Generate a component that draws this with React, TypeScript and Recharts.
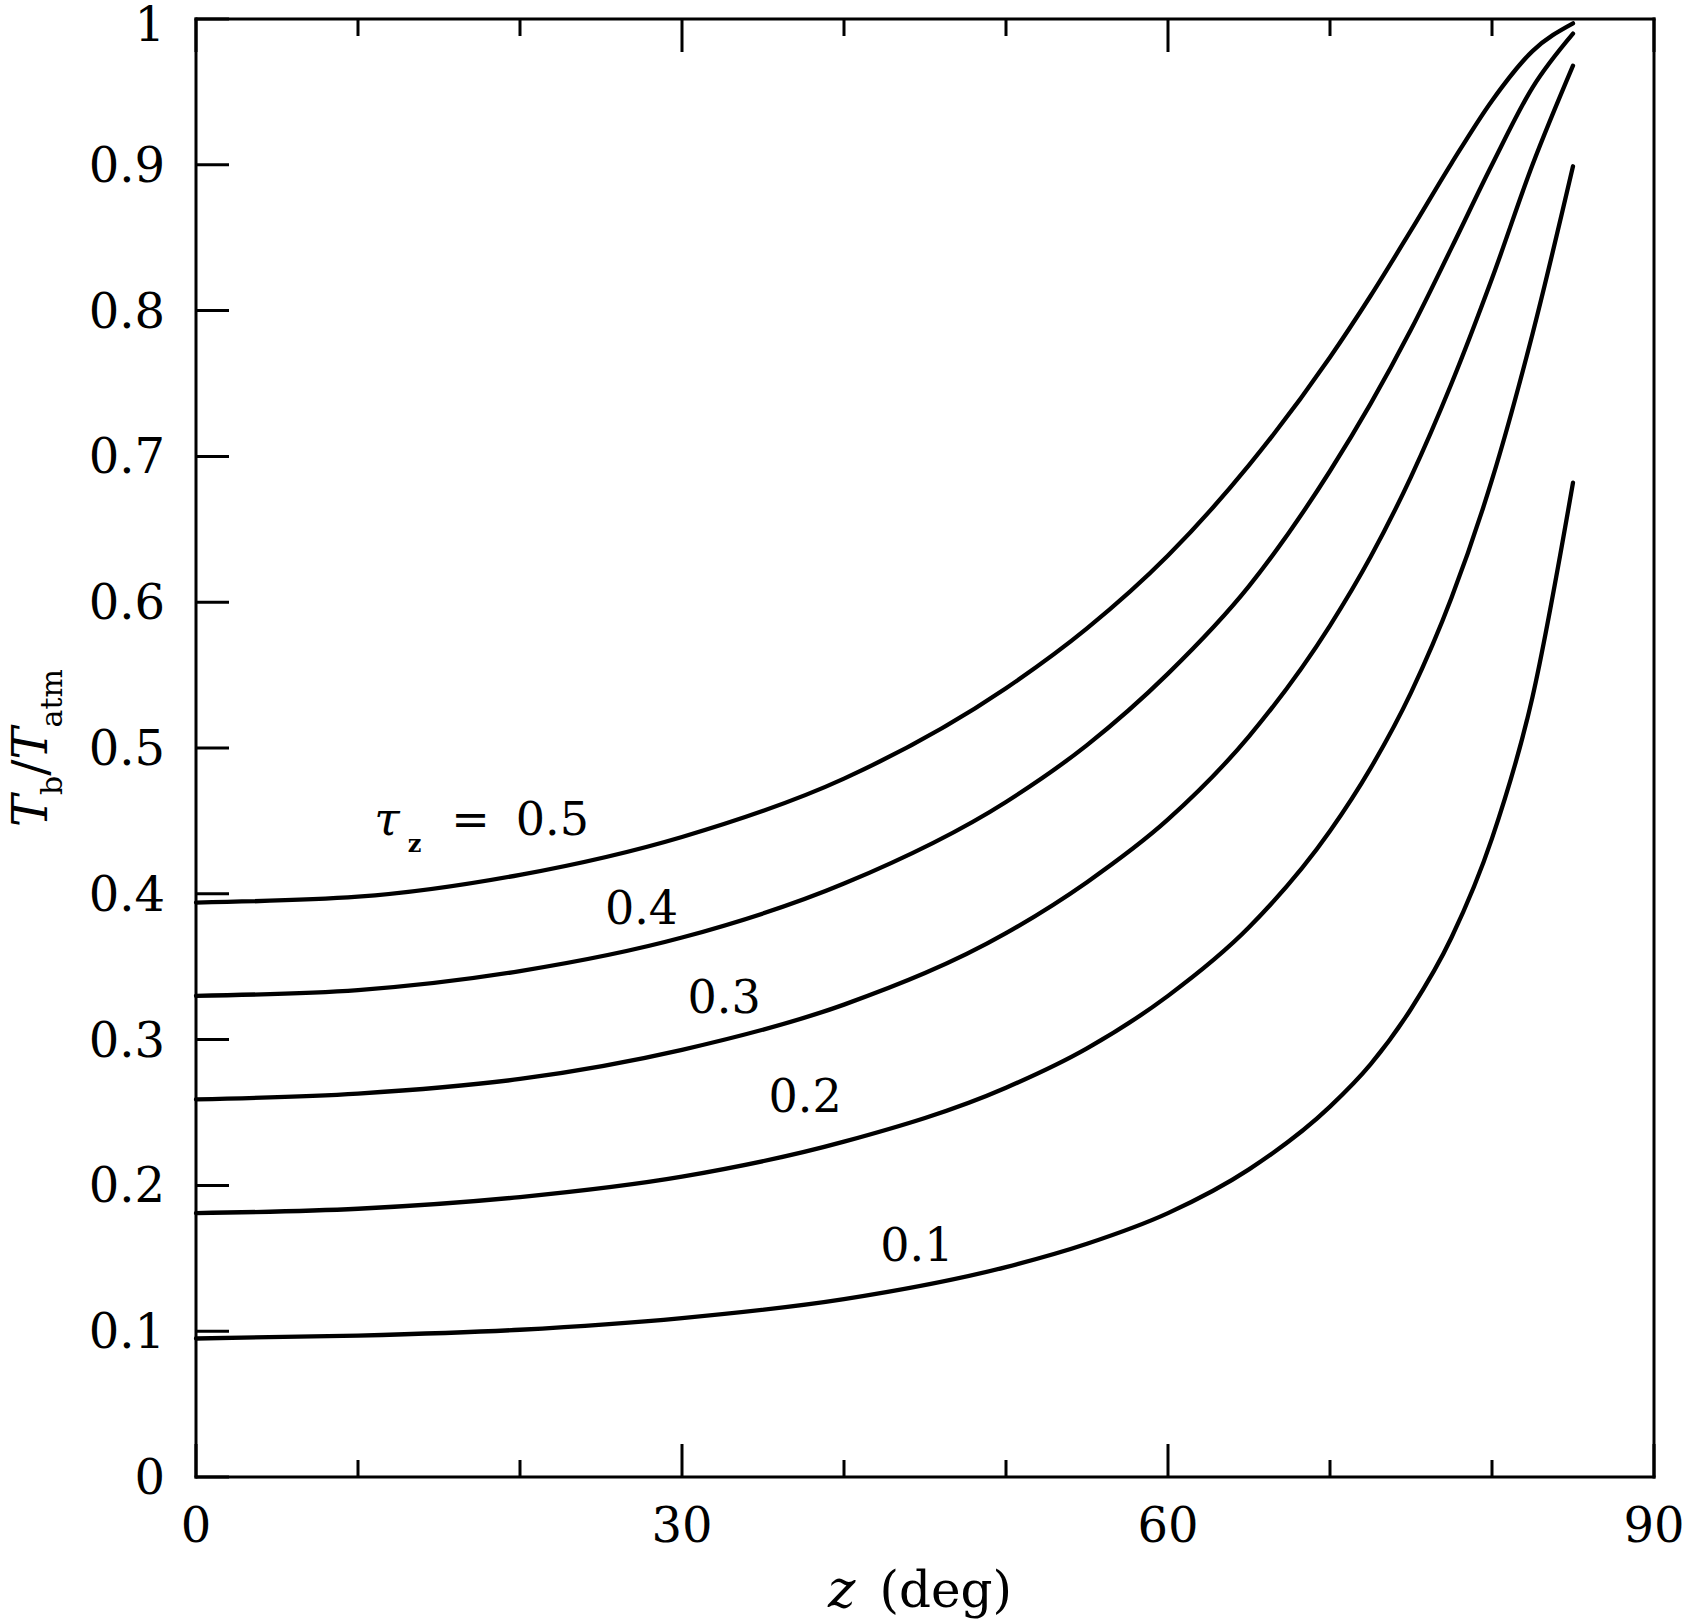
import { LineChart, Line, XAxis, YAxis, ReferenceDot, Label } from 'recharts'

// zenith angle (deg) and Tb/Tatm for each tau_z
const zenith = [0, 10, 20, 30, 40, 50, 55, 60, 65, 70, 72.5, 75, 77.5, 80, 82.5, 85]
const tau01 = [0.095, 0.097, 0.101, 0.109, 0.122, 0.144, 0.16, 0.181, 0.211, 0.254, 0.283, 0.321, 0.37, 0.438, 0.535, 0.682]
const tau02 = [0.181, 0.184, 0.192, 0.206, 0.23, 0.267, 0.294, 0.33, 0.377, 0.443, 0.486, 0.538, 0.603, 0.684, 0.784, 0.899]
const tau03 = [0.259, 0.263, 0.273, 0.293, 0.324, 0.373, 0.408, 0.451, 0.508, 0.584, 0.631, 0.686, 0.75, 0.822, 0.9, 0.968]
const tau04 = [0.33, 0.334, 0.347, 0.37, 0.407, 0.463, 0.502, 0.551, 0.611, 0.69, 0.736, 0.787, 0.843, 0.9, 0.953, 0.99]
const tau05 = [0.394, 0.398, 0.413, 0.439, 0.479, 0.541, 0.582, 0.632, 0.694, 0.768, 0.81, 0.855, 0.901, 0.944, 0.978, 0.997]

const xTicks = [0, 10, 20, 30, 40, 50, 60, 70, 80, 90]
const yTicks = [0, 0.1, 0.2, 0.3, 0.4, 0.5, 0.6, 0.7, 0.8, 0.9, 1]

// curve labels: text, z, value at label centre
const curveLabels = [
    { text: '0.4', z: 27.5, v: 0.39 },
    { text: '0.3', z: 32.6, v: 0.329 },
    { text: '0.2', z: 37.6, v: 0.261 },
    { text: '0.1', z: 44.5, v: 0.159 }
]

const data = zenith.map((z, i) => ({
    z,
    t1: tau01[i],
    t2: tau02[i],
    t3: tau03[i],
    t4: tau04[i],
    t5: tau05[i]
}))

const FONT = '"DejaVu Serif", "Liberation Serif", serif'
const MAJOR = 33
const MINOR = 17

const BottomTick = (props: any) => {
    const { x, y, payload } = props
    const major = payload.value % 30 === 0
    return (
        <g>
            <line x1={x} x2={x} y1={y} y2={y - (major ? MAJOR : MINOR)} stroke="#000" strokeWidth={3} />
            {major && (
                <text x={x} y={y + 65} textAnchor="middle" fontSize={48} fontFamily={FONT} fill="#000">
                    {payload.value}
                </text>
            )}
        </g>
    )
}

const TopTick = (props: any) => {
    const { x, y, payload } = props
    const major = payload.value % 30 === 0
    return <line x1={x} x2={x} y1={y} y2={y + (major ? MAJOR : MINOR)} stroke="#000" strokeWidth={3} />
}

const LeftTick = (props: any) => {
    const { x, y, payload } = props
    // keep the top label inside the picture
    const ly = payload.value === 1 ? y + 5 : y
    return (
        <g>
            <line x1={x} x2={x + MAJOR} y1={y} y2={y} stroke="#000" strokeWidth={3} />
            <text x={x - 31} y={ly} textAnchor="end" dominantBaseline="central" fontSize={48} fontFamily={FONT} fill="#000">
                {String(payload.value)}
            </text>
        </g>
    )
}

const RightTick = (props: any) => {
    const { x, y } = props
    return <line x1={x} x2={x - MAJOR} y1={y} y2={y} stroke="#000" strokeWidth={3} />
}

const axisLine = { stroke: '#000', strokeWidth: 3, strokeLinecap: 'square' as const }

export default function App() {
    const series = ['t1', 't2', 't3', 't4', 't5']
    return (
        <div style={{ position: 'absolute', left: 0, top: 0, background: '#fff' }}>
            <LineChart width={1684} height={1623} data={data} margin={{ top: 0, right: 0, bottom: 0, left: 0 }}>
                <XAxis
                    xAxisId="b"
                    dataKey="z"
                    type="number"
                    domain={[0, 90]}
                    ticks={xTicks}
                    height={146}
                    tickSize={0}
                    tickMargin={0}
                    tickLine={false}
                    axisLine={axisLine}
                    tick={<BottomTick />}
                    interval={0}
                >
                    <Label
                        content={(p: any) => {
                            const vb = p.viewBox
                            return (
                                <text x={vb.x + vb.width / 2 - 5} y={vb.y + 130} textAnchor="middle" fontSize={50} fontFamily={FONT} fill="#000">
                                    <tspan fontStyle="italic" fontSize={52}>z</tspan>
                                    <tspan dx={24}>(deg)</tspan>
                                </text>
                            )
                        }}
                    />
                </XAxis>
                <XAxis
                    xAxisId="t"
                    dataKey="z"
                    type="number"
                    orientation="top"
                    domain={[0, 90]}
                    ticks={xTicks}
                    height={19}
                    tickSize={0}
                    tickMargin={0}
                    tickLine={false}
                    axisLine={axisLine}
                    tick={<TopTick />}
                    interval={0}
                />
                <YAxis
                    yAxisId="l"
                    type="number"
                    domain={[0, 1]}
                    ticks={yTicks}
                    width={196}
                    tickSize={0}
                    tickMargin={0}
                    tickLine={false}
                    axisLine={axisLine}
                    tick={<LeftTick />}
                    interval={0}
                >
                    <Label
                        content={(p: any) => {
                            const vb = p.viewBox
                            const cx = 47
                            const cy = vb.y + vb.height / 2
                            return (
                                <text
                                    x={cx}
                                    y={cy}
                                    transform={`rotate(-90, ${cx}, ${cy})`}
                                    textAnchor="middle"
                                    fontSize={48}
                                    fontFamily={FONT}
                                    fill="#000"
                                >
                                    <tspan fontStyle="italic">T</tspan>
                                    <tspan fontSize={30} dy={15}>b</tspan>
                                    <tspan dy={-15}>/</tspan>
                                    <tspan fontStyle="italic">T</tspan>
                                    <tspan fontSize={30} dy={15}>atm</tspan>
                                </text>
                            )
                        }}
                    />
                </YAxis>
                <YAxis
                    yAxisId="r"
                    orientation="right"
                    type="number"
                    domain={[0, 1]}
                    ticks={yTicks}
                    width={30}
                    tickSize={0}
                    tickMargin={0}
                    tickLine={false}
                    axisLine={axisLine}
                    tick={<RightTick />}
                    interval={0}
                />
                {series.map(key => (
                    <Line
                        key={key}
                        xAxisId="b"
                        yAxisId="l"
                        type="monotone"
                        dataKey={key}
                        stroke="#000"
                        strokeWidth={4.3}
                        strokeLinecap="round"
                        dot={false}
                        activeDot={false}
                        isAnimationActive={false}
                    />
                ))}
                <ReferenceDot
                    xAxisId="b"
                    yAxisId="l"
                    x={11}
                    y={0.44}
                    r={0}
                    shape={(p: any) => (
                        <text x={p.cx} y={p.cy} fontSize={46} fontFamily={FONT} fill="#000">
                            <tspan fontStyle="italic">τ</tspan>
                            <tspan fontSize={24} fontWeight="bold" dx={8} dy={17}>z</tspan>
                            <tspan dx={30} dy={-17}>=</tspan>
                            <tspan dx={26}>0.5</tspan>
                        </text>
                    )}
                />
                {curveLabels.map(l => (
                    <ReferenceDot
                        key={l.text}
                        xAxisId="b"
                        yAxisId="l"
                        x={l.z}
                        y={l.v}
                        r={0}
                        shape={(p: any) => (
                            <text x={p.cx} y={p.cy} textAnchor="middle" dominantBaseline="central" fontSize={46} fontFamily={FONT} fill="#000">
                                {l.text}
                            </text>
                        )}
                    />
                ))}
            </LineChart>
        </div>
    )
}
